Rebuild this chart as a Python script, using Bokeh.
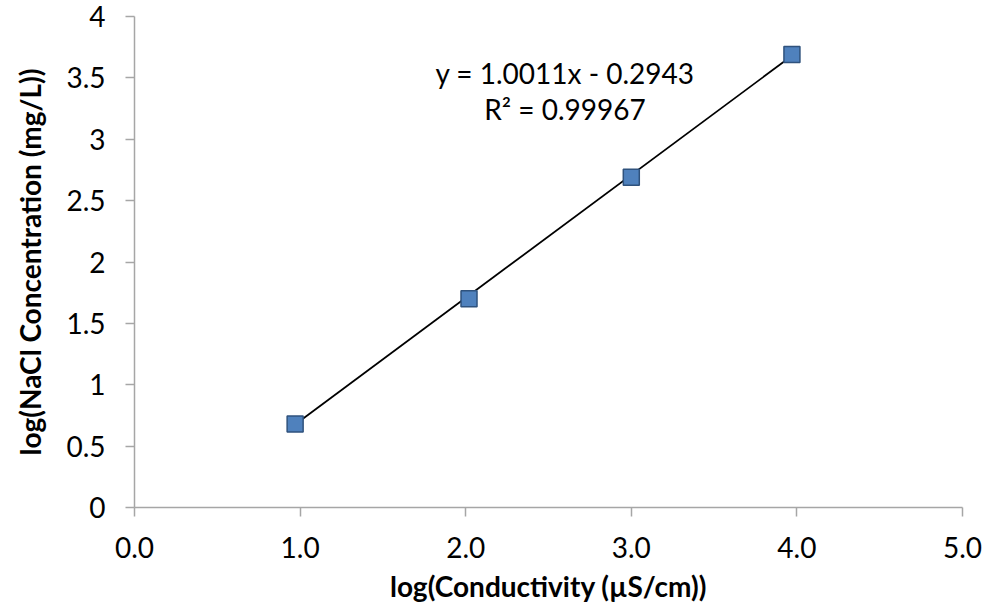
from bokeh.plotting import figure
from bokeh.models import Range1d, FixedTicker, Label, CustomJSTickFormatter
from bokeh.embed import file_html
from bokeh.resources import INLINE

# Data (log10 values)
log_conductivity = [0.97, 2.02, 3.00, 3.97]
log_nacl = [0.68, 1.70, 2.69, 3.69]

slope = 1.0011
intercept = -0.2943
r_squared = "0.99967"

x_ticks = [0, 1, 2, 3, 4, 5]
y_ticks = [0, 0.5, 1, 1.5, 2, 2.5, 3, 3.5, 4]

FONT = "Lato"

p = figure(width=985, height=615, output_backend="svg", toolbar_location=None,
           x_range=Range1d(0, 5), y_range=Range1d(0, 4),
           min_border_left=134, min_border_right=23, min_border_top=16, min_border_bottom=108)
p.outline_line_color = None
p.grid.visible = False
p.background_fill_color = "white"

# trendline over data span
x0, x1 = min(log_conductivity), max(log_conductivity)
p.line([x0, x1], [slope * x0 + intercept, slope * x1 + intercept], line_color="black", line_width=1.8)

p.scatter(log_conductivity, log_nacl, marker="square", size=16,
          fill_color="#4f81bd", line_color="#2f527d", line_width=1.5)

for ax in (p.xaxis[0], p.yaxis[0]):
    ax.axis_line_color = "#a6a6a6"
    ax.axis_line_width = 1.5
    ax.major_tick_line_color = "#a6a6a6"
    ax.major_tick_line_width = 1.5
    ax.major_tick_out = 9
    ax.major_tick_in = 0
    ax.minor_tick_out = 0
    ax.minor_tick_in = 0
    ax.major_label_text_font = FONT
    ax.major_label_text_font_size = "28px"
    ax.major_label_text_color = "black"
    ax.axis_label_text_font = FONT
    ax.axis_label_text_font_style = "bold"
    ax.axis_label_text_font_size = "28px"
    ax.axis_label_text_color = "black"

p.xaxis.ticker = FixedTicker(ticks=x_ticks)
p.xaxis.formatter = CustomJSTickFormatter(code="return tick.toFixed(1);")
p.yaxis.ticker = FixedTicker(ticks=y_ticks)
p.xaxis.axis_label = "log(Conductivity (µS/cm))"
p.yaxis.axis_label = "log(NaCl Concentration (mg/L))"
p.xaxis.major_label_standoff = 20
p.xaxis.axis_label_standoff = 8
p.yaxis.major_label_standoff = 20
p.yaxis.axis_label_standoff = 16

p.add_layout(Label(x=2.60, y=3.54, text="y = 1.0011x - 0.2943", text_align="center",
                   text_baseline="middle", text_font=FONT, text_font_size="28px", text_color="black"))
p.add_layout(Label(x=2.60, y=3.25, text="R² = " + r_squared, text_align="center",
                   text_baseline="middle", text_font=FONT, text_font_size="28px", text_color="black"))

open("out.html", "w").write(file_html(p, INLINE))
